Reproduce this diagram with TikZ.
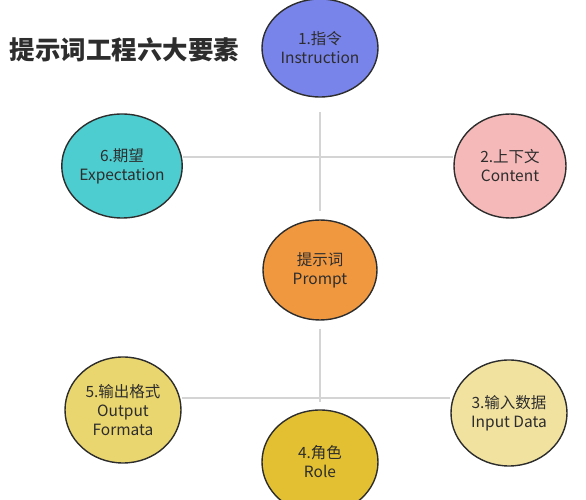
\documentclass[tikz,border=0pt]{standalone}
\usepackage{fontspec}
\setmainfont{Noto Sans CJK SC}
\usetikzlibrary{shapes.geometric}
\definecolor{txt}{RGB}{45,45,45}
\definecolor{edge}{RGB}{45,45,45}
\definecolor{conncol}{RGB}{212,212,212}
\definecolor{cA}{RGB}{121,132,234}
\definecolor{cB}{RGB}{245,185,185}
\definecolor{cC}{RGB}{242,226,160}
\definecolor{cD}{RGB}{226,192,50}
\definecolor{cE}{RGB}{234,214,110}
\definecolor{cF}{RGB}{77,205,208}
\definecolor{cP}{RGB}{240,152,64}
\tikzset{
  bubble/.style={ellipse,draw=edge,line width=1.4pt,text=txt,align=center,
    font=\fontsize{15.5}{19}\selectfont,inner sep=0pt,minimum width=116pt,minimum height=102pt},
  conn/.style={draw=conncol,line width=1.8pt}
}
\begin{document}
\begin{tikzpicture}[x=1pt,y=1pt]
\useasboundingbox (0,0) rectangle (586,500);
\clip (0,0) rectangle (586,500);
\node[anchor=west,text=txt,font=\fontsize{25.5}{30}\selectfont\bfseries] (title) at (6,450) {提示词工程六大要素};
% nodes
\node[bubble,fill=cA,minimum height=98pt] (n1) at (320,452) {1.指令\\Instruction};
\node[bubble,fill=cF,minimum height=104pt] (n6) at (122,334) {6.期望\\Expectation};
\node[bubble,fill=cB,minimum width=112pt,minimum height=104pt] (n2) at (510,334) {2.上下文\\Content};
\node[bubble,fill=cP,minimum width=114pt,minimum height=100pt] (p) at (320,230) {提示词\\Prompt};
\node[bubble,fill=cE,minimum height=106pt] (n5) at (123,90) {5.输出格式\\Output\\Formata};
\node[bubble,fill=cC,minimum height=106pt] (n3) at (509,87) {3.输入数据\\Input Data};
\node[bubble,fill=cD,minimum height=104pt] (n4) at (320,38) {4.角色\\Role};
% connectors
\draw[conn,shorten <=14pt,shorten >=8pt] (n1) -- (p);
\draw[conn] ([yshift=9pt]n6.east) -- ([yshift=9pt]n2.west);
\draw[conn,shorten <=8pt,shorten >=7pt] (p) -- (n4);
\draw[conn] ([yshift=12pt]n5.east) -- ([yshift=15pt]n3.west);
\end{tikzpicture}
\end{document}
